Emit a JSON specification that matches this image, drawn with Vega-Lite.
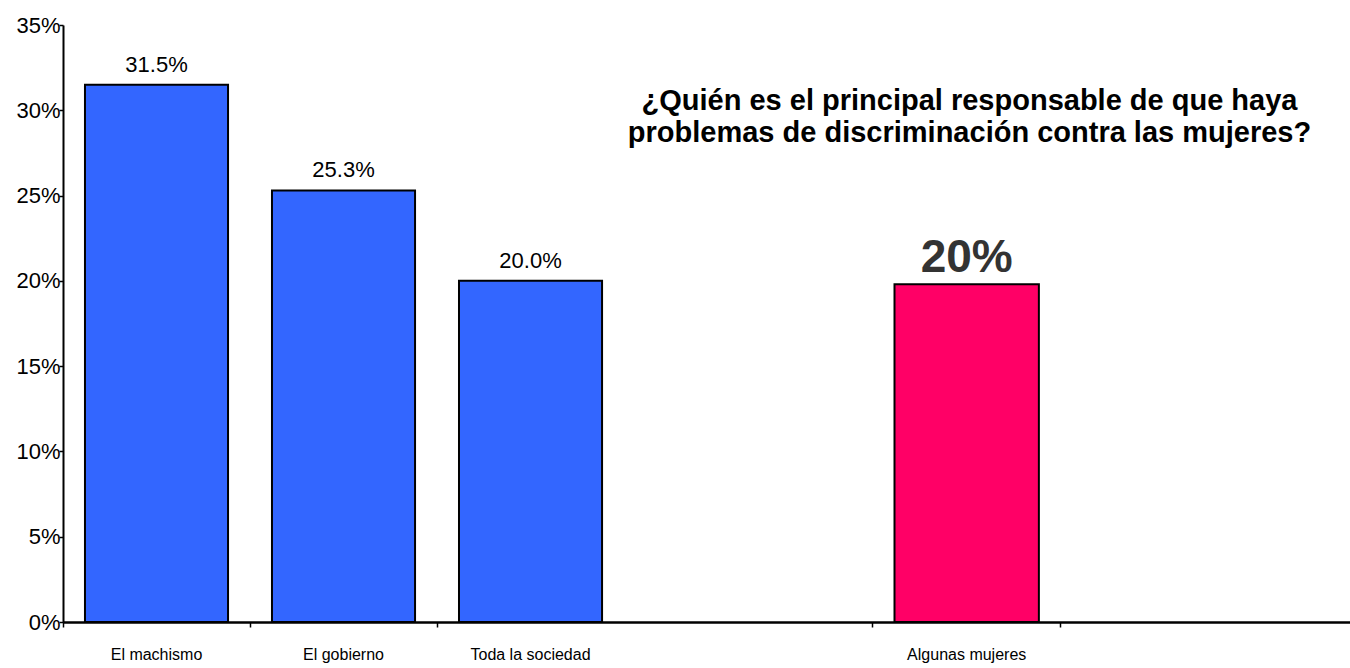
{
  "$schema": "https://vega.github.io/schema/vega-lite/v6.json",
  "width": 1287,
  "height": 597,
  "autosize": {"type": "none"},
  "padding": {"left": 63, "top": 25, "right": 0, "bottom": 46},
  "background": "white",
  "config": {"view": {"stroke": null}, "font": "Liberation Sans"},
  "title": {
    "text": ["¿Quién es el principal responsable de que haya", "problemas de discriminación contra las mujeres?"],
    "fontSize": 29,
    "fontWeight": "bold",
    "color": "black",
    "anchor": "middle",
    "frame": "group",
    "orient": "top",
    "offset": 0,
    "baseline": "top",
    "lineHeight": 32,
    "dx": 263,
    "dy": 134
  },
  "data": {
    "values": [
      {"grupo": "El machismo", "pct": 31.5, "etiqueta": "31.5%", "serie": "A"},
      {"grupo": "El gobierno", "pct": 25.3, "etiqueta": "25.3%", "serie": "A"},
      {"grupo": "Toda la sociedad", "pct": 20.0, "etiqueta": "20.0%", "serie": "A"},
      {"grupo": "Algunas mujeres", "pct": 19.8, "etiqueta": "20%", "serie": "B"}
    ]
  },
  "layer": [
    {
      "transform": [{"filter": "datum.serie === 'A'"}],
      "encoding": {
        "x": {
          "field": "grupo",
          "type": "nominal",
          "sort": null,
          "scale": {"domain": ["El machismo", "El gobierno", "Toda la sociedad", "·4", "·5"], "paddingInner": 0, "paddingOuter": 0.941, "align": 0},
          "axis": {
            "orient": "bottom",
            "title": null,
            "values": ["El machismo", "El gobierno", "Toda la sociedad"],
            "bandPosition": 0,
            "labelOffset": 0,
            "labelAngle": 0,
            "labelFontSize": 16,
            "labelColor": "black",
            "labelPadding": 19,
            "tickSize": 5,
            "tickColor": "black",
            "tickWidth": 1.5,
            "domainColor": "black",
            "domainWidth": 2
          }
        },
        "y": {
          "field": "pct",
          "type": "quantitative",
          "scale": {"domain": [0, 35], "nice": false},
          "axis": {
            "title": null,
            "values": [0, 5, 10, 15, 20, 25, 30, 35],
            "labelExpr": "datum.value + '%'",
            "grid": false,
            "tickSize": 4,
            "tickColor": "black",
            "tickWidth": 1.5,
            "labelPadding": -1,
            "labelFontSize": 22,
            "labelColor": "black",
            "domainColor": "black",
            "domainWidth": 2
          }
        }
      },
      "layer": [
        {"mark": {"type": "bar", "color": "#3366FF", "stroke": "black", "strokeWidth": 2, "width": {"band": 0.765}}},
        {"mark": {"type": "text", "baseline": "alphabetic", "dy": -13, "fontSize": 22, "color": "black"}, "encoding": {"text": {"field": "etiqueta"}}}
      ]
    },
    {
      "transform": [{"filter": "datum.serie === 'B'"}],
      "encoding": {
        "x": {
          "field": "grupo",
          "type": "nominal",
          "sort": null,
          "scale": {"domain": ["·1", "·2", "·3", "·4", "Algunas mujeres", "·6"], "paddingInner": 0, "paddingOuter": 0.432, "align": 0.37},
          "axis": {
            "orient": "bottom",
            "title": null,
            "values": ["Algunas mujeres", "·6"],
            "bandPosition": 0,
            "labelOffset": 0,
            "labelAngle": 0,
            "labelExpr": "datum.value === '·6' ? '' : datum.value",
            "labelFontSize": 16,
            "labelColor": "black",
            "labelPadding": 19,
            "tickSize": 5,
            "tickColor": "black",
            "tickWidth": 1.5,
            "domainColor": "black",
            "domainWidth": 2
          }
        },
        "y": {"field": "pct", "type": "quantitative", "scale": {"domain": [0, 35], "nice": false}}
      },
      "layer": [
        {"mark": {"type": "bar", "color": "#FF0066", "stroke": "black", "strokeWidth": 2, "width": {"band": 0.77}}},
        {"mark": {"type": "text", "baseline": "alphabetic", "dy": -12, "fontSize": 46, "fontWeight": "bold", "color": "#333333"}, "encoding": {"text": {"field": "etiqueta"}}}
      ]
    }
  ],
  "resolve": {"scale": {"x": "independent"}, "axis": {"x": "independent"}}
}
